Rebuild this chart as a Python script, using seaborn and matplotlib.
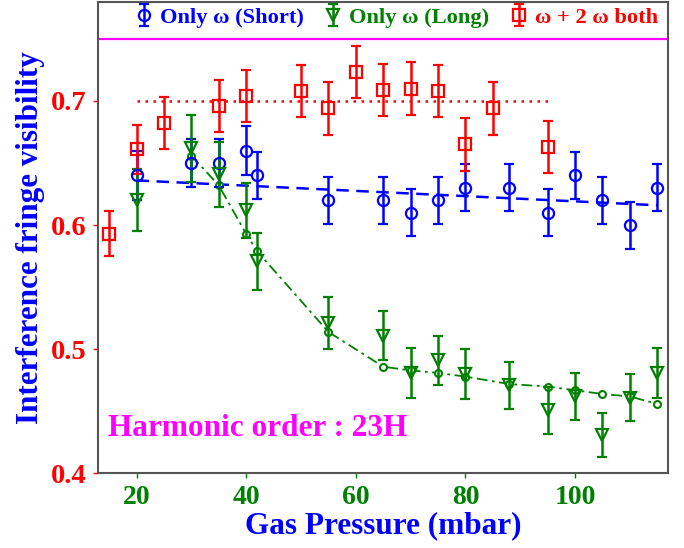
import numpy as np
import pandas as pd
import seaborn as sns
import matplotlib
matplotlib.use("Agg")
import matplotlib.pyplot as plt

# data
blue_x = [20, 30, 35, 40, 42, 55, 65, 70, 75, 80, 88, 95, 100, 105, 110, 115]
blue_y = [0.640, 0.650, 0.650, 0.660, 0.640, 0.620, 0.620, 0.610, 0.620, 0.630,
          0.630, 0.610, 0.640, 0.620, 0.600, 0.630]
blue_err = [0.020, 0.019, 0.019, 0.020, 0.019, 0.019, 0.019, 0.019, 0.019, 0.019,
            0.019, 0.019, 0.019, 0.019, 0.019, 0.019]

green_x = [20, 30, 35, 40, 42, 55, 65, 70, 75, 80, 88, 95, 100, 105, 110, 115]
green_y = [0.620, 0.662, 0.641, 0.612, 0.571, 0.521, 0.511, 0.481, 0.491, 0.480,
           0.471, 0.451, 0.462, 0.431, 0.461, 0.481]
green_err = [0.025, 0.027, 0.026, 0.022, 0.023, 0.021, 0.020, 0.020, 0.020, 0.020,
             0.019, 0.019, 0.019, 0.018, 0.019, 0.020]

red_x = [15, 20, 25, 35, 40, 50, 55, 60, 65, 70, 75, 80, 85, 95]
red_y = [0.593, 0.661, 0.682, 0.696, 0.704, 0.708, 0.694, 0.723, 0.709, 0.710,
         0.708, 0.665, 0.694, 0.663]
red_err = [0.018, 0.020, 0.021, 0.021, 0.021, 0.021, 0.021, 0.021, 0.021, 0.021,
           0.021, 0.021, 0.021, 0.021]

# fit curves
blue_fit_x = [20, 115]
blue_fit_y = [0.636, 0.616]
green_fit_x = [30, 35, 40, 42, 55, 65, 70, 75, 80, 88, 95, 100, 105, 110, 115]
green_fit_y = [0.656, 0.632, 0.593, 0.579, 0.514, 0.486, 0.483, 0.481, 0.478,
               0.472, 0.470, 0.467, 0.464, 0.462, 0.456]
red_fit_x = [20, 95]
red_fit_y = [0.700, 0.700]

labels = ["Only ω (Short)", "Only ω (Long)", "ω + 2 ω both"]
BLUE, GREEN, RED, MAG = "#0000FF", "#008000", "#FF0000", "#FF00FF"

sns.set_style("ticks")
plt.rcParams["font.family"] = ["Liberation Serif", "DejaVu Serif"]
plt.rcParams["font.weight"] = "bold"

fig = plt.figure(figsize=(6.84, 5.48), dpi=100)
ax = fig.add_axes([0.1435, 0.136, 0.8335, 0.861])

# fitted lines
sns.lineplot(x=blue_fit_x, y=blue_fit_y, ax=ax, color=BLUE, lw=1.8,
             linestyle=(0, (5, 3)), legend=False)
sns.lineplot(x=red_fit_x, y=red_fit_y, ax=ax, color=RED, lw=1.8,
             linestyle=(0, (1, 2.2)), legend=False)
sns.lineplot(x=green_fit_x, y=green_fit_y, ax=ax, color=GREEN, lw=1.3,
             linestyle=(0, (6, 2.5, 1.5, 2.5)), marker="o", markersize=5,
             markerfacecolor="white", markeredgecolor=GREEN, markeredgewidth=1.5,
             legend=False)

kw = dict(linestyle="none", capsize=3.6, elinewidth=1.8, capthick=1.8,
          markerfacecolor="none", markeredgewidth=1.6)
h1 = ax.errorbar(blue_x, blue_y, yerr=blue_err, fmt="o", color=BLUE, ms=8, **kw)
h2 = ax.errorbar(green_x, green_y, yerr=green_err, fmt="v", color=GREEN, ms=9, **kw)
h3 = ax.errorbar(red_x, red_y, yerr=red_err, fmt="s", color=RED, ms=8, **kw)

ax.axhline(0.75, color=MAG, lw=1.6)

ax.set_xlim(13, 117)
ax.set_ylim(0.4, 0.78)
ax.set_xticks([20, 40, 60, 80, 100])
ax.set_yticks([0.4, 0.5, 0.6, 0.7])
ax.set_yticklabels(["0.4", "0.5", "0.6", "0.7"])
ax.tick_params(axis="x", colors=GREEN, labelsize=20, length=3.5, width=1, pad=4.5)
ax.tick_params(axis="y", colors=RED, labelsize=20.5, length=3.5, width=1, pad=5)
for lab in ax.get_xticklabels() + ax.get_yticklabels():
    lab.set_fontweight("bold")
for sp in ax.spines.values():
    sp.set_color("#555555")
    sp.set_linewidth(1.5)

ax.set_xlabel("Gas Pressure (mbar)", color=BLUE, fontsize=22.5, fontweight="bold",
              labelpad=1)
ax.set_ylabel("Interference fringe visibility", color=BLUE, fontsize=22.4,
              fontweight="bold")
ax.yaxis.set_label_coords(-0.0935, 0.5)

ax.text(14.8, 0.430, "Harmonic order : 23H", color=MAG, fontsize=22.5,
        fontweight="bold", ha="left", va="baseline")

leg = ax.legend([h1, h2, h3], labels, loc="center", bbox_to_anchor=(0.523, 0.966),
                ncol=3, frameon=False, fontsize=16.2, handlelength=0.8,
                handletextpad=0.3, columnspacing=0.92, borderaxespad=0,
                borderpad=0)
for txt, c in zip(leg.get_texts(), [BLUE, GREEN, RED]):
    txt.set_color(c)
    txt.set_fontweight("bold")

fig.savefig("out.png", dpi=100)
